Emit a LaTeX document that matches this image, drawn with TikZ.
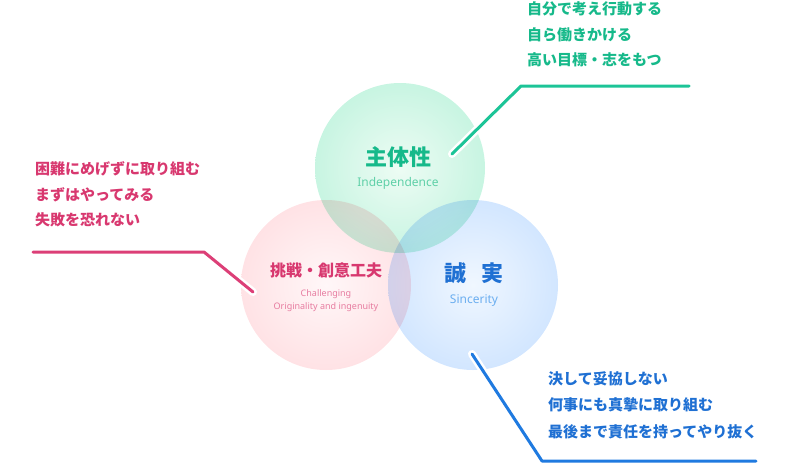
\documentclass[tikz,border=0pt]{standalone}
\usepackage{fontspec}
\setmainfont{Noto Sans CJK JP}
\newfontfamily\latinfont{Noto Sans}
\usepackage{xcolor}
\definecolor{indepText}  {HTML}{16B98A}
\definecolor{indepSub}   {HTML}{5FD0A8}
\definecolor{indepLine}  {HTML}{1CC497}
\definecolor{indepCore}  {HTML}{EDFCF4}
\definecolor{indepEdge}  {HTML}{A2EDCF}
\definecolor{challText}  {HTML}{D8386F}
\definecolor{challSub}   {HTML}{E77CA0}
\definecolor{challLine}  {HTML}{DC3F77}
\definecolor{challCore}  {HTML}{FFF7F8}
\definecolor{challEdge}  {HTML}{FFCDD2}
\definecolor{sincText}   {HTML}{1F70D3}
\definecolor{sincSub}    {HTML}{6BAEF0}
\definecolor{sincLine}   {HTML}{1F7AE0}
\definecolor{sincCore}   {HTML}{F0F7FF}
\definecolor{sincEdge}   {HTML}{B4D5FF}
\usetikzlibrary{positioning}
\pgfdeclareradialshading{indepBall}{\pgfpoint{0bp}{0bp}}%
  {color(0bp)=(indepCore); color(50bp)=(indepEdge)}
\pgfdeclareradialshading{challBall}{\pgfpoint{0bp}{0bp}}%
  {color(0bp)=(challCore); color(50bp)=(challEdge)}
\pgfdeclareradialshading{sincBall}{\pgfpoint{0bp}{0bp}}%
  {color(0bp)=(sincCore); color(50bp)=(sincEdge)}
\tikzset{
    ball/.style={circle, minimum size=170pt, inner sep=0pt, shade},
    title/.style={font=\fontsize{22}{26}\selectfont\bfseries, inner sep=0pt},
    smalltitle/.style={font=\fontsize{16}{20}\selectfont\bfseries, inner sep=0pt},
    subtitle/.style={font=\latinfont\fontsize{12}{14}\selectfont, inner sep=0pt},
    tinysub/.style={font=\latinfont\fontsize{9}{13}\selectfont, inner sep=0pt, align=center},
    blurb/.style={font=\fontsize{15}{25.5}\selectfont\bfseries, inner sep=0pt,
                  align=left, anchor=base west},
    halo/.style={-, line width=8pt, white, line cap=round},
    leader/.style={-, line width=3pt, line cap=round, line join=round},
}

\begin{document}
\begin{tikzpicture}[x=1pt, y=-1pt]
    \useasboundingbox (0,0) rectangle (800,467);
    % the three circles, darker where they overlap
    \begin{scope}[blend group=multiply]
        \node[ball, shading=indepBall] (indep) at (400,168) {};
        \node[ball, shading=challBall] (chall) at (326,285) {};
        \node[ball, shading=sincBall]  (sinc)  at (473,285) {};
    \end{scope}
    % circle labels
    \node[title, text=indepText] (indepJa) at (398,157) {主体性};
    \node[subtitle, text=indepSub] (indepEn) at (398,183) {Independence};
    \node[smalltitle, text=challText] (challJa) at (326,270) {挑戦・創意工夫};
    \node[tinysub, text=challSub] (challEn) at (326,300.5)
        {Challenging\\[0.5pt]Originality and ingenuity};
    \node[title, text=sincText] (sincJa) at (474,273) {誠\hspace{0.7em}実};
    \node[subtitle, text=sincSub] (sincEn) at (474,301) {Sincerity};
    % leader lines
    \coordinate (indepTip)  at (452,154);
    \coordinate (indepBend) at (521,86);
    \coordinate (indepEnd)  at (689,86);
    \coordinate (challTip)  at (253,292);
    \coordinate (challBend) at (204,252);
    \coordinate (challEnd)  at (33,252);
    \coordinate (sincTip)   at (472,354);
    \coordinate (sincBend)  at (542,461);
    \coordinate (sincEnd)   at (756,461);
    \draw[halo] (indepTip) -- (indepBend);
    \draw[halo] (challTip) -- (challBend);
    \draw[halo] (sincTip) -- (sincBend);
    \draw[leader, indepLine] (indepTip) -- (indepBend) -- (indepEnd);
    \draw[leader, challLine] (challTip) -- (challBend) -- (challEnd);
    \draw[leader, sincLine] (sincTip) -- (sincBend) -- (sincEnd);
    % blurbs (anchored at the baseline of their last line)
    \node[blurb, text=indepText] (indepNote) at (527,65.5)
        {自分で考え行動する\\自ら働きかける\\高い目標・志をもつ};
    \node[blurb, text=challText] (challNote) at (35,225.7)
        {困難にめげずに取り組む\\まずはやってみる\\失敗を恐れない};
    \node[blurb, text=sincText, font=\fontsize{15}{26.5}\selectfont\bfseries]
        (sincNote) at (548,437) {決して妥協しない\\何事にも真摯に取り組む\\最後まで責任を持ってやり抜く};
\end{tikzpicture}
\end{document}
